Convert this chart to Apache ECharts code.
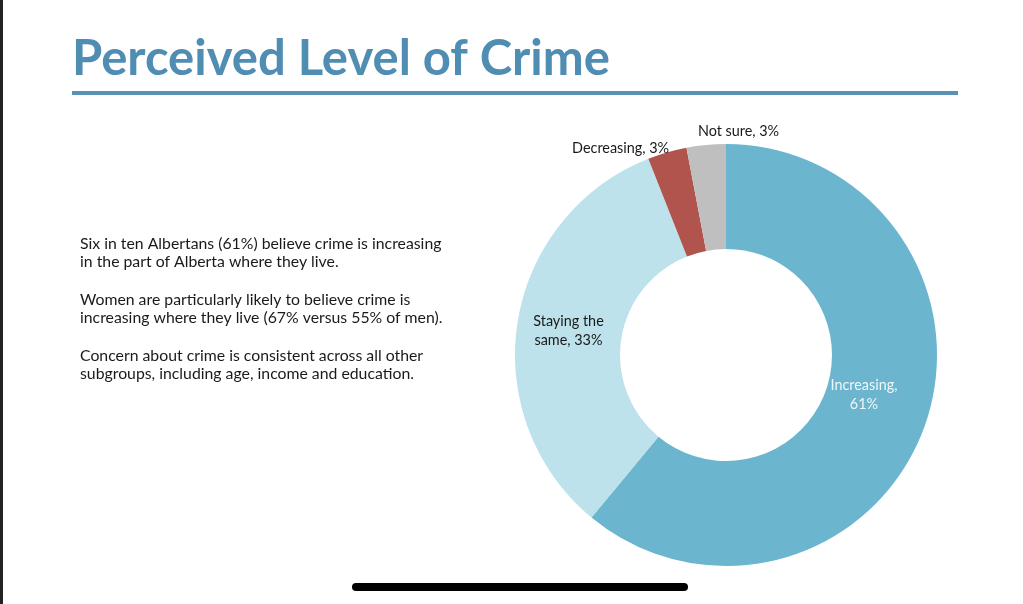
<!DOCTYPE html>
<html>
<head>
<meta charset="utf-8">
<script src="https://cdn.jsdelivr.net/npm/echarts@6/dist/echarts.min.js"></script>
<style>
html,body{margin:0;padding:0;background:#fff;}
#main{width:1023px;height:604px;}
</style>
</head>
<body>
<div id="main"></div>
<script>
const titleText = 'Perceived Level of Crime';
const categories = ['Increasing', 'Staying the same', 'Decreasing', 'Not sure'];
const values = [61, 33, 3, 3];
const labelTexts = ['Increasing,\n61%', 'Staying the\nsame, 33%', 'Decreasing, 3%', 'Not sure, 3%'];
const colors = ['#6bb5cf', '#bde2eb', '#b0544d', '#bfbfbf'];
const paragraphs = [
  'Six in ten Albertans (61%) believe crime is increasing\nin the part of Alberta where they live.',
  'Women are particularly likely to believe crime is\nincreasing where they live (67% versus 55% of men).',
  'Concern about crime is consistent across all other\nsubgroups, including age, income and education.'
];

const chart = echarts.init(document.getElementById('main'), null, {renderer: 'canvas'});
const FONT = 'Lato, "Open Sans", sans-serif';

const paraGraphics = paragraphs.map((p, i) => ({
  type: 'text',
  left: 80,
  top: 235 + i * 56,
  style: {text: p, font: '15.8px ' + FONT, fill: '#1a1a1a', lineHeight: 18}
}));

const option = {
  backgroundColor: '#ffffff',
  animation: false,
  title: {
    text: titleText,
    left: 67,
    top: 30,
    textStyle: {fontFamily: FONT, fontWeight: 'bold', fontSize: 49, color: '#4f8db2'}
  },
  graphic: [
    {type: 'rect', left: 0, top: 0, shape: {width: 3, height: 604}, style: {fill: '#222'}},
    {type: 'rect', left: 72, top: 91, shape: {width: 886, height: 4}, style: {fill: '#5592b6'}},
    {type: 'rect', left: 352, top: 583, shape: {width: 336, height: 8, r: 4}, style: {fill: '#000'}}
  ].concat(paraGraphics),
  series: [{
    type: 'pie',
    center: [726, 355],
    radius: [106, 211],
    startAngle: 90,
    clockwise: true,
    avoidLabelOverlap: false,
    data: categories.map((c, i) => ({
      name: c,
      value: values[i],
      itemStyle: {color: colors[i]},
      label: i < 2 ? {
        position: 'inside',
        color: i === 0 ? '#eef7fa' : '#1a1a1a',
        lineHeight: 19
      } : {
        position: 'outside',
        color: '#1a1a1a'
      },
      labelLine: {show: false, length: 0, length2: 0}
    })),
    label: {
      formatter: p => labelTexts[p.dataIndex],
      fontFamily: FONT,
      fontSize: 14.4,
      align: 'center'
    },
    labelLayout: function (p) {
      if (p.dataIndex === 0) return {dx: -14, dy: -15};
      if (p.dataIndex === 1) return {dx: 2, dy: 1};
      if (p.dataIndex === 3) return {dx: 78, dy: -14};
      if (p.dataIndex === 2) return {dx: 7, dy: -4};
      return {};
    },
    emphasis: {disabled: true}
  }]
};
chart.setOption(option);
</script>
</body>
</html>
